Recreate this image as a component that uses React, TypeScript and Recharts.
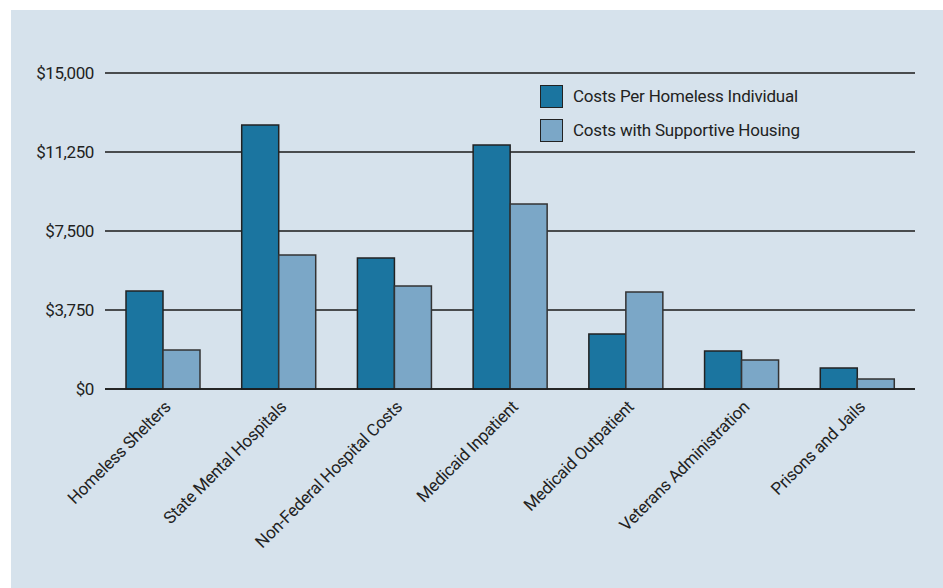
import React from "react"
import { BarChart, Bar, XAxis, YAxis, CartesianGrid } from "recharts"

const categories = [
  "Homeless Shelters",
  "State Mental Hospitals",
  "Non-Federal Hospital Costs",
  "Medicaid Inpatient",
  "Medicaid Outpatient",
  "Veterans Administration",
  "Prisons and Jails",
]
const perIndividual = [4650, 12530, 6220, 11580, 2610, 1800, 1000]
const withHousing = [1850, 6360, 4890, 8780, 4600, 1380, 480]
const yTicks = [0, 3750, 7500, 11250, 15000]
const seriesNames = ["Costs Per Homeless Individual", "Costs with Supportive Housing"]

const FONT = "Roboto, 'DejaVu Sans', sans-serif"
const DARK = "#1b75a0"
const LIGHT = "#7ba7c7"

const data = categories.map((name, i) => ({
  name,
  perIndividual: perIndividual[i],
  withHousing: withHousing[i],
}))

const fmt = (v: number) => "$" + v.toLocaleString("en-US")

function YTick({ x, y, payload }: any) {
  return (
    <text x={x - 3} y={y} dy={6} textAnchor="end" fill="#222" fontSize={17} fontFamily={FONT} letterSpacing={-0.4}>
      {fmt(payload.value)}
    </text>
  )
}

function XTick({ x, y, payload }: any) {
  return (
    <g transform={`translate(${x + 9},${y + 11})`}>
      <text textAnchor="end" transform="rotate(-45)" fill="#222" fontSize={17} fontFamily={FONT} letterSpacing={-0.3}>
        {payload.value}
      </text>
    </g>
  )
}

export default function App() {
  return (
    <div style={{ position: "absolute", left: 0, top: 0, width: 943, height: 588, background: "#fff" }}>
      <div style={{ position: "absolute", left: 11, top: 10, width: 932, height: 578, background: "#d6e2ec" }}>
        <BarChart
          width={932}
          height={578}
          data={data}
          margin={{ top: 63, right: 28, left: 0, bottom: 0 }}
          barGap={0}
          barSize={37}
        >
          <CartesianGrid vertical={false} stroke="#1a1a1a" strokeWidth={1.4} />
          <XAxis
            dataKey="name"
            interval={0}
            height={199}
            tickLine={false}
            axisLine={{ stroke: "#1a1a1a", strokeWidth: 1.5 }}
            tick={<XTick />}
          />
          <YAxis
            width={94}
            domain={[0, 15000]}
            ticks={yTicks}
            axisLine={false}
            tickLine={false}
            tick={<YTick />}
          />
          <Bar dataKey="perIndividual" fill={DARK} stroke="#222" strokeWidth={1.5} isAnimationActive={false} />
          <Bar dataKey="withHousing" fill={LIGHT} stroke="#333" strokeWidth={1.5} isAnimationActive={false} />
        </BarChart>
        <div style={{ position: "absolute", left: 529, top: 69, fontFamily: FONT, fontSize: 17, letterSpacing: -0.2, color: "#222" }}>
          {seriesNames.map((s, i) => (
            <div key={s} style={{ display: "flex", alignItems: "center", height: 34 }}>
              <span
                style={{
                  display: "inline-block",
                  width: 21,
                  height: 21,
                  background: i === 0 ? DARK : LIGHT,
                  border: "1.5px solid #222",
                  marginRight: 10,
                }}
              />
              {s}
            </div>
          ))}
        </div>
      </div>
    </div>
  )
}
